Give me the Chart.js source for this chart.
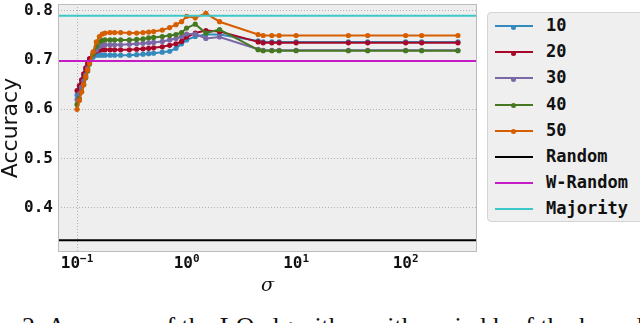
<!DOCTYPE html>
<html>
<head>
<meta charset="utf-8">
<script src="https://cdn.jsdelivr.net/npm/chart.js@4.4.1/dist/chart.umd.min.js"></script>
<style>
  body { margin: 0; background: #fff; width: 640px; height: 323px; overflow: hidden; position: relative; }
  #wrap { position: absolute; left: 0; top: 0; width: 640px; height: 300px; }
  #legend {
    position: absolute; left: 487px; top: 12px; width: 170px; height: 210px;
    background: #efefef; border: 1px solid #d4d4d4; border-radius: 4px; box-sizing: border-box;
    font: bold 17px "DejaVu Sans Mono", monospace; color: #111;
  }
  .row { position: absolute; left: 0; height: 26px; width: 100%; }
  .sample { position: absolute; left: 7px; width: 38px; top: 12px; }
  .dot { position: absolute; left: 16px; top: -2.5px; width: 5px; height: 5px; border-radius: 50%; }
  .lbl { position: absolute; left: 58px; top: 1px; line-height: 22px; }
  #caption {
    position: absolute; left: 22px; top: 314px; white-space: nowrap;
    font: 26px "Liberation Serif", serif; line-height: 26px; color: #111;
  }
</style>
</head>
<body>
<div id="wrap"><canvas id="chart" width="640" height="300"></canvas></div>
<div id="legend"></div>
<div id="caption">2: Accuracy of the LO algorithm with varied k of the kernel and</div>
<script>
// sigma values (x) and accuracy per k
const sigma = [0.1, 0.105, 0.11, 0.115, 0.12, 0.125, 0.13, 0.14, 0.15, 0.16, 0.17, 0.18, 0.2, 0.22, 0.25, 0.3, 0.35, 0.4, 0.45, 0.5,
  0.6, 0.7, 0.8, 0.9, 1.0, 1.2, 1.5, 2.0, 4.5, 5, 6, 7, 10, 30, 45, 100, 140, 300];

const acc10 = [0.629, 0.642, 0.656, 0.668, 0.68, 0.69, 0.699, 0.706, 0.71, 0.71, 0.71, 0.71, 0.71, 0.71, 0.71, 0.71, 0.711, 0.712, 0.713, 0.714,
  0.716, 0.718, 0.724, 0.733, 0.741, 0.748, 0.752, 0.752, 0.739, 0.737, 0.737, 0.737, 0.737, 0.737, 0.737, 0.737, 0.737, 0.737];
const acc20 = [0.638, 0.648, 0.66, 0.672, 0.684, 0.694, 0.703, 0.712, 0.718, 0.72, 0.721, 0.721, 0.721, 0.721, 0.721, 0.721, 0.722, 0.723, 0.724, 0.725,
  0.727, 0.73, 0.733, 0.738, 0.747, 0.755, 0.76, 0.758, 0.737, 0.735, 0.735, 0.735, 0.735, 0.735, 0.735, 0.735, 0.735, 0.735];
const acc30 = [0.62, 0.632, 0.645, 0.658, 0.67, 0.683, 0.695, 0.71, 0.72, 0.727, 0.73, 0.731, 0.731, 0.731, 0.731, 0.732, 0.733, 0.734, 0.735, 0.736,
  0.738, 0.741, 0.744, 0.748, 0.753, 0.753, 0.744, 0.747, 0.722, 0.72, 0.72, 0.72, 0.72, 0.72, 0.72, 0.72, 0.72, 0.72];
const acc40 = [0.61, 0.622, 0.636, 0.65, 0.664, 0.678, 0.692, 0.712, 0.728, 0.737, 0.74, 0.741, 0.741, 0.741, 0.741, 0.741, 0.742, 0.743, 0.745, 0.746,
  0.748, 0.75, 0.752, 0.756, 0.765, 0.773, 0.755, 0.762, 0.721, 0.719, 0.719, 0.719, 0.719, 0.719, 0.719, 0.719, 0.719, 0.719];
const acc50 = [0.6, 0.618, 0.635, 0.65, 0.666, 0.68, 0.694, 0.717, 0.737, 0.748, 0.753, 0.755, 0.756, 0.756, 0.756, 0.755, 0.755, 0.756, 0.757, 0.758,
  0.761, 0.766, 0.772, 0.778, 0.789, 0.786, 0.795, 0.778, 0.752, 0.75, 0.75, 0.75, 0.75, 0.75, 0.75, 0.75, 0.75, 0.75];

const seriesNames = ['10', '20', '30', '40', '50'];
const seriesColors = ['#348ABD', '#A60628', '#7A68A6', '#467821', '#D55E00'];

// baselines
const baseNames = ['Random', 'W-Random', 'Majority'];
const baseValues = [0.334, 0.698, 0.79];
const baseColors = ['#000000', '#c41cc4', '#3cc8c8'];

// axis limits and ticks
const xMin = 0.067, xMax = 448;
const yMin = 0.31, yMax = 0.814;
const xTicks = [0.1, 1, 10, 100];
const xTickExp = ['−1', '0', '1', '2'];
const yTicks = [0.4, 0.5, 0.6, 0.7, 0.8];

let allSeries = [acc10, acc20, acc30, acc40, acc50];
let datasets = [];

allSeries.forEach((vals, i) => {
  datasets.push({
    label: seriesNames[i],
    data: sigma.map((s, j) => ({ x: s, y: vals[j] })),
    showLine: true,
    borderColor: seriesColors[i],
    backgroundColor: seriesColors[i],
    borderWidth: 2,
    pointRadius: 2.6,
    pointBorderWidth: 0,
    hasMarker: true
  });
});

baseValues.forEach((v, i) => {
  datasets.push({
    label: baseNames[i],
    data: [{ x: xMin, y: v }, { x: xMax, y: v }],
    showLine: true,
    borderColor: baseColors[i],
    backgroundColor: baseColors[i],
    borderWidth: 2,
    pointRadius: 0,
    hasMarker: false
  });
});

// later datasets on top, like matplotlib
datasets.forEach((d, i) => { d.order = -i; });

// grey plot background, frame, and 10^n tick labels
const plotBg = {
  id: 'plotBg',
  beforeDraw(chart) {
    let a = chart.chartArea;
    let c = chart.ctx;
    c.save();
    c.fillStyle = '#eeeeee';
    c.fillRect(a.left, a.top, a.right - a.left, a.bottom - a.top);
    c.restore();
  },
  afterDraw(chart) {
    let a = chart.chartArea;
    let c = chart.ctx;
    c.save();
    c.strokeStyle = '#bcbcbc';
    c.lineWidth = 1;
    c.strokeRect(a.left + 0.5, a.top + 0.5, a.right - a.left - 1, a.bottom - a.top - 1);

    let sc = chart.scales.x;
    c.fillStyle = '#111';
    c.textBaseline = 'alphabetic';
    c.textAlign = 'left';
    xTicks.forEach((v, k) => {
      let px = sc.getPixelForValue(v);
      c.font = 'bold 16px "DejaVu Sans Mono"';
      let w1 = c.measureText('10').width;
      c.font = 'bold 11px "DejaVu Sans Mono"';
      let w2 = c.measureText(xTickExp[k]).width;
      let x0 = px - (w1 + w2) / 2;
      c.font = 'bold 16px "DejaVu Sans Mono"';
      c.fillText('10', x0, a.bottom + 16);
      c.font = 'bold 11px "DejaVu Sans Mono"';
      c.fillText(xTickExp[k], x0 + w1, a.bottom + 10);
    });
    c.restore();
  }
};

const tickFont = { family: 'DejaVu Sans Mono', weight: 'bold', size: 16 };

let chart = new Chart(document.getElementById('chart'), {
  type: 'scatter',
  data: { datasets: datasets },
  plugins: [plotBg],
  options: {
    responsive: false,
    animation: false,
    layout: { padding: { left: 0, right: 163, top: 1, bottom: 0 } },
    plugins: { legend: { display: false }, tooltip: { enabled: false } },
    scales: {
      x: {
        type: 'logarithmic',
        min: xMin,
        max: xMax,
        afterBuildTicks: (scale) => { scale.ticks = xTicks.map(v => ({ value: v })); },
        afterFit: (scale) => { scale.height = 48; scale.paddingLeft = 0; scale.paddingRight = 0; },
        border: { display: false, dash: [1, 2] },
        grid: {
          drawTicks: false,
          color: (ctx) => (ctx.tick && ctx.tick.value === 0.1 ? '#b2b2b2' : 'rgba(0,0,0,0)'),
          lineWidth: 1
        },
        ticks: { display: false },
        title: {
          display: true,
          text: 'σ',
          color: '#111',
          font: { family: 'DejaVu Serif', style: 'italic', size: 19 },
          padding: { top: 0, bottom: 3 }
        }
      },
      y: {
        min: yMin,
        max: yMax,
        afterBuildTicks: (scale) => { scale.ticks = yTicks.map(v => ({ value: v })); },
        afterFit: (scale) => { scale.width = 58; scale.paddingTop = 0; scale.paddingBottom = 0; },
        border: { display: false, dash: [1, 2] },
        grid: { drawTicks: false, color: '#b2b2b2', lineWidth: 1 },
        ticks: {
          padding: 5,
          color: '#111',
          font: tickFont,
          callback: (v) => v.toFixed(1)
        },
        title: {
          display: true,
          text: 'Accuracy',
          color: '#111',
          font: { family: 'DejaVu Sans', size: 22, lineHeight: 1 },
          padding: 0
        }
      }
    }
  }
});

// legend box, built from the datasets
let legend = document.getElementById('legend');
datasets.forEach((d, i) => {
  let row = document.createElement('div');
  row.className = 'row';
  row.style.top = (i * 26.2) + 'px';
  let sample = document.createElement('div');
  sample.className = 'sample';
  sample.style.borderTop = (d.hasMarker ? 2 : 2.5) + 'px solid ' + d.borderColor;
  if (d.hasMarker) {
    let dot = document.createElement('div');
    dot.className = 'dot';
    dot.style.background = d.borderColor;
    sample.appendChild(dot);
  }
  let lbl = document.createElement('div');
  lbl.className = 'lbl';
  lbl.textContent = d.label;
  row.appendChild(sample);
  row.appendChild(lbl);
  legend.appendChild(row);
});
</script>
</body>
</html>
